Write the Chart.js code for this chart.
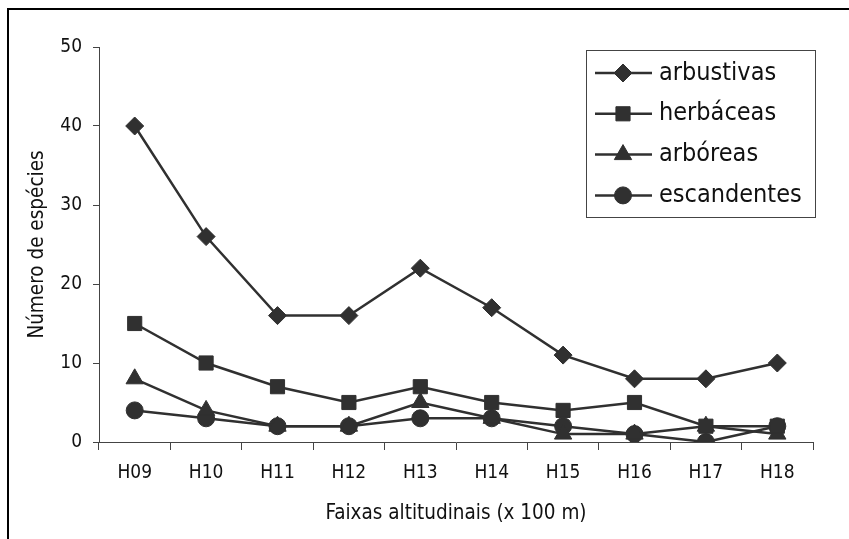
<!DOCTYPE html>
<html>
<head>
<meta charset="utf-8">
<script src="https://cdn.jsdelivr.net/npm/chart.js@4"></script>
<style>
  html, body { margin: 0; padding: 0; background: #ffffff; }
  #wrap { width: 849px; height: 539px; }
</style>
</head>
<body>
<div id="wrap"><canvas id="chart" width="849" height="539"></canvas></div>
<script>
var faixas = ['H09', 'H10', 'H11', 'H12', 'H13', 'H14', 'H15', 'H16', 'H17', 'H18'];
var arbustivas = [40, 26, 16, 16, 22, 17, 11, 8, 8, 10];
var herbaceas = [15, 10, 7, 5, 7, 5, 4, 5, 2, 2];
var arboreas = [8, 4, 2, 2, 5, 3, 1, 1, 2, 1];
var escandentes = [4, 3, 2, 2, 3, 3, 2, 1, 0, 2];

var ink = '#303030';
var textColor = '#111111';
var fontFamily = '"DejaVu Sans Condensed", "Liberation Sans", sans-serif';

function serie(label, data, style, radius) {
    return {
        label: label,
        data: data,
        borderColor: ink,
        backgroundColor: ink,
        borderWidth: 2.5,
        tension: 0,
        pointStyle: style,
        pointRadius: radius,
        pointHoverRadius: radius,
        pointBackgroundColor: ink,
        pointBorderColor: ink,
        pointBorderWidth: 1
    };
}

// outer frame of the figure
var frame = {
    id: 'frame',
    beforeDraw: function (chart) {
        let ctx = chart.ctx;
        ctx.save();
        ctx.strokeStyle = '#000000';
        ctx.lineWidth = 2;
        ctx.beginPath();
        ctx.moveTo(849, 9);
        ctx.lineTo(8, 9);
        ctx.lineTo(8, 539);
        ctx.stroke();
        ctx.restore();
    }
};

// boxed legend drawn inside the plot area
var boxLegend = {
    id: 'boxLegend',
    afterDraw: function (chart) {
        let ctx = chart.ctx;
        ctx.save();
        ctx.fillStyle = '#ffffff';
        ctx.fillRect(586, 50, 229, 167);
        ctx.strokeStyle = '#444444';
        ctx.lineWidth = 1;
        ctx.strokeRect(586.5, 50.5, 229, 167);

        chart.data.datasets.forEach(function (ds, i) {
            let y = 73 + i * 40.8;
            ctx.strokeStyle = ink;
            ctx.lineWidth = 2.5;
            ctx.beginPath();
            ctx.moveTo(595, y);
            ctx.lineTo(652, y);
            ctx.stroke();

            ctx.fillStyle = ink;
            ctx.strokeStyle = ink;
            ctx.lineWidth = 1;
            Chart.helpers.drawPoint(ctx, {
                pointStyle: ds.pointStyle,
                radius: ds.pointRadius,
                rotation: 0,
                borderWidth: 1
            }, 623, y);

            ctx.fillStyle = textColor;
            ctx.font = '25px ' + fontFamily;
            ctx.textBaseline = 'middle';
            ctx.textAlign = 'left';
            ctx.fillText(ds.label, 659, y);
        });
        ctx.restore();
    }
};

new Chart(document.getElementById('chart'), {
    type: 'line',
    data: {
        labels: faixas,
        datasets: [
            serie('arbustivas', arbustivas, 'rectRot', 9),
            serie('herbáceas', herbaceas, 'rect', 10),
            serie('arbóreas', arboreas, 'triangle', 10),
            serie('escandentes', escandentes, 'circle', 8.5)
        ]
    },
    plugins: [frame, boxLegend],
    options: {
        responsive: false,
        animation: false,
        layout: {
            padding: { left: 0, top: 47, right: 36, bottom: 0 }
        },
        plugins: {
            legend: { display: false },
            tooltip: { enabled: false }
        },
        scales: {
            x: {
                offset: true,
                afterFit: function (scale) { scale.height = 97; },
                grid: {
                    offset: true,
                    drawOnChartArea: false,
                    tickLength: 8,
                    color: '#444444'
                },
                border: { color: '#444444', width: 1 },
                ticks: {
                    color: textColor,
                    padding: 12,
                    font: { family: fontFamily, size: 19 }
                },
                title: {
                    display: true,
                    text: 'Faixas altitudinais (x 100 m)',
                    color: textColor,
                    padding: { top: 0, bottom: 13 },
                    font: { family: fontFamily, size: 20.5 }
                }
            },
            y: {
                min: 0,
                max: 50,
                afterFit: function (scale) { scale.width = 99; },
                grid: {
                    drawOnChartArea: false,
                    tickLength: 6,
                    color: '#444444'
                },
                border: { color: '#444444', width: 1 },
                ticks: {
                    stepSize: 10,
                    color: textColor,
                    padding: 11,
                    font: { family: fontFamily, size: 19 }
                },
                title: {
                    display: true,
                    text: 'Número de espécies',
                    color: textColor,
                    padding: { top: 25, bottom: 0 },
                    font: { family: fontFamily, size: 20.5 }
                }
            }
        }
    }
});
</script>
</body>
</html>
